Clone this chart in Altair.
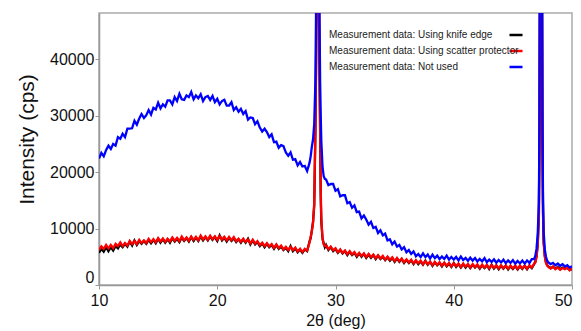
import altair as alt
import numpy as np
import pandas as pd

FONT = "Liberation Sans, Arial, sans-serif"

# ---- x sampling (deg) ----
x_a = list(np.round(np.arange(10.0, 27.81, 0.2), 1))            # 90 pts
x_p1 = [27.9, 28.0, 28.1, 28.2, 28.3, 28.35, 28.4, 28.45, 28.5, 28.55,
        28.6, 28.65, 28.7, 28.75, 28.8, 28.9, 29.0, 29.1]        # 18 pts
x_c = list(np.round(np.arange(29.2, 46.81, 0.2), 1))            # 89 pts
x_p2 = [46.9, 47.0, 47.1, 47.2, 47.25, 47.3, 47.35, 47.4, 47.45, 47.5,
        47.55, 47.6, 47.7, 47.8, 47.9]                            # 15 pts
x_e = list(np.round(np.arange(48.0, 50.01, 0.2), 1))            # 11 pts
x_all = [float(v) for v in x_a + x_p1 + x_c + x_p2 + x_e]

series_names = ["Measurement data: Using knife edge",
                "Measurement data: Using scatter protector",
                "Measurement data: Not used"]
series_keys = ["knife", "protector", "none"]
series_colors = ["#000000", "#ff0000", "#0000ff"]

# ---- Not used (blue) ----
blue_a = [22400, 23400, 22800, 23900, 24700, 24100, 25000, 24700, 26200, 25900,
          26800, 26200, 27700, 27700, 27800, 29100, 28400, 29500, 30300, 29600,
          30100, 31000, 30200, 31400, 31100, 32300, 31300, 32000, 31600, 32700,
          32700, 32000, 33300, 32600, 33900, 32900, 32800, 33600, 33300, 34200,
          32900, 33600, 33100, 33800, 32600, 33300, 33500, 32800, 33500, 32400,
          33000, 32000, 32600, 32800, 31800, 31800, 32400, 31000, 31500, 30700,
          31200, 30300, 30800, 29300, 29700, 29600, 28500, 29000, 27900, 27200,
          27700, 27100, 26200, 26700, 25300, 25400, 24300, 24800, 24600, 23500,
          22900, 23500, 22200, 22300, 21200, 21800, 21000, 21100, 20200, 21600]
blue_p1 = [22800, 24500, 25800, 28500, 36000, 47000, 66000, 110000, 180000, 110000,
           66000, 47000, 36000, 30000, 25500, 21000, 19300, 18800]
blue_c = [18700, 17700, 17900, 17900, 16700, 17000, 15700, 15900, 15900, 14500,
          14700, 13700, 14100, 12900, 13000, 11800, 12300, 11600, 10700, 11200,
          10100, 10300, 9200, 9700, 8800, 9100, 7900, 8100, 7200, 7700,
          6800, 7100, 6300, 6700, 5800, 6200, 5500, 5950, 5100, 5500,
          4950, 5600, 4950, 5400, 4700, 5380, 4750, 5220, 4580, 5050,
          4620, 5200, 4480, 4950, 4500, 4980, 4360, 5040, 4420, 4800,
          4270, 4840, 4310, 4780, 4150, 4620, 4190, 4760, 4030, 4500,
          4080, 4560, 3940, 4420, 4000, 4480, 3860, 4340, 3920, 4400,
          3780, 4260, 3840, 4320, 3800, 4350, 3900, 4600, 4600]
blue_p2 = [5200, 6400, 9000, 14500, 30000, 70000, 170000, 170000, 70000, 30000,
           15000, 9500, 6300, 5000, 4300]
blue_e = [4000, 3700, 3900, 3500, 3800, 3400, 3700, 3300, 3500, 3100, 3300]

# ---- Using scatter protector (red) ----
red_a = [6200, 6850, 6400, 7100, 6500, 7100, 6550, 7300, 6900, 7550,
         6900, 7450, 7000, 7800, 7250, 7800, 7250, 8000, 7450, 7900,
         7450, 8180, 7600, 8130, 7560, 8300, 7720, 8240, 7660, 8180,
         7700, 8420, 7840, 8360, 7780, 8600, 7920, 8440, 7860, 8580,
         8000, 8520, 7940, 8760, 8080, 8600, 8010, 8720, 8120, 8620,
         8000, 8680, 8060, 8540, 7920, 8500, 7950, 8500, 7750, 8200,
         7650, 8200, 7630, 8060, 7390, 8020, 7340, 7760, 7080, 7500,
         6900, 7420, 6840, 7260, 6580, 7200, 6540, 6980, 6320, 6760,
         6200, 6740, 6180, 6620, 5960, 6400, 5850, 6400, 6100, 7500]
red_p1 = [8500, 9500, 11000, 14500, 28000, 38000, 52000, 90000, 150000, 90000,
          52000, 38000, 28000, 17000, 12000, 8200, 7200, 6900]
red_c = [7000, 6350, 6800, 6150, 6500, 5800, 6300, 5700, 6120, 5450,
         5980, 5410, 5840, 5170, 5700, 5150, 5600, 4950, 5500, 4950,
         5390, 4730, 5270, 4710, 5150, 4490, 5030, 4470, 4910, 4250,
         4790, 4230, 4670, 4010, 4550, 4010, 4470, 3830, 4390, 3850,
         4310, 3670, 4230, 3690, 4150, 3520, 4090, 3560, 4030, 3400,
         3970, 3440, 3910, 3280, 3850, 3330, 3810, 3190, 3770, 3250,
         3730, 3110, 3690, 3170, 3650, 3030, 3610, 3090, 3570, 2950,
         3540, 3030, 3520, 2910, 3500, 2990, 3480, 2870, 3460, 2950,
         3450, 2850, 3450, 2950, 3450, 2880, 3520, 3100, 3800]
red_p2 = [4000, 5000, 7000, 12000, 26000, 62000, 160000, 160000, 62000, 26000,
          12500, 7500, 5000, 3900, 3500]
red_e = [3200, 2900, 3300, 2800, 3100, 2700, 3000, 2800, 3100, 2600, 2900]

# ---- Using knife edge (black) ----
black_a = [5700, 6400, 5900, 6700, 6000, 6700, 6100, 6900, 6500, 7200,
           6700, 7300, 6800, 7700, 7000, 7900, 7100, 7800, 7300, 7800,
           7300, 8000, 7400, 8000, 7400, 8200, 7500, 8100, 7500, 8100,
           7500, 8300, 7700, 8200, 7600, 8400, 7800, 8300, 7700, 8500,
           7800, 8400, 7800, 8600, 7900, 8500, 7900, 8600, 8000, 8500,
           7800, 8800, 7900, 8400, 7700, 8400, 7800, 8300, 7600, 8100,
           7500, 8100, 7500, 8200, 7200, 7900, 7200, 7600, 6900, 7400,
           6700, 7300, 6700, 7100, 6400, 7100, 6400, 6800, 6200, 6600,
           6000, 6900, 6000, 6500, 5800, 6300, 5700, 6300, 6000, 7700]
black_p1 = [8300, 9700, 11200, 14000, 27000, 37000, 50000, 90000, 150000, 90000,
            50000, 37000, 27000, 15500, 11200, 8300, 7400, 6700]
black_c = [7100, 6200, 6700, 6000, 6400, 5700, 6200, 5600, 6000, 5300,
           5900, 5300, 5700, 5000, 5600, 5000, 5500, 4800, 5400, 4800,
           5300, 4600, 5200, 4600, 5000, 4400, 4900, 4300, 4800, 4100,
           4700, 4100, 4600, 3900, 4400, 3900, 4400, 3700, 4300, 3700,
           4200, 3600, 4300, 3600, 4100, 3400, 4000, 3500, 3900, 3300,
           3900, 3300, 3800, 3200, 3900, 3200, 3700, 3100, 3700, 3100,
           3600, 3000, 3600, 3100, 3500, 2900, 3500, 3000, 3500, 2850,
           3600, 2900, 3400, 2800, 3400, 2900, 3400, 2750, 3300, 2850,
           3350, 2750, 3350, 2850, 3350, 2800, 3400, 3000, 3700]
black_p2 = [4100, 5100, 7200, 12500, 27000, 64000, 160000, 160000, 64000, 27000,
            13000, 7800, 5200, 4000, 3500]
black_e = [3300, 3000, 3200, 2900, 3200, 2800, 3100, 2900, 3000, 2700, 2800]

series_values = [
    black_a + black_p1 + black_c + black_p2 + black_e,
    red_a + red_p1 + red_c + red_p2 + red_e,
    blue_a + blue_p1 + blue_c + blue_p2 + blue_e,
]

x_ticks = [10, 20, 30, 40, 50]
y_ticks = [0, 10000, 20000, 30000, 40000]

frames = []
for name, key, vals in zip(series_names, series_keys, series_values):
    assert len(vals) == len(x_all), (name, len(vals), len(x_all))
    frames.append(pd.DataFrame({"x": x_all, "y": vals, "key": key, "label": name}))

color_scale = alt.Scale(domain=series_keys, range=series_colors)
dash_scale = alt.Scale(domain=series_names, range=[[1, 0], [1, 0], [1, 0]])

x_enc = alt.X("x:Q", title="2θ (deg)",
              scale=alt.Scale(domain=[10, 50], nice=False, zero=False),
              axis=alt.Axis(values=x_ticks, labelFlush=False, grid=False,
                            labelAlign=alt.ExprRef(expr="datum.value == 50 ? 'right' : 'center'"),
                            tickSize=4, labelPadding=3, titlePadding=4))
y_enc = alt.Y("y:Q", title="Intensity (cps)",
              scale=alt.Scale(domain=[0, 48200], nice=False),
              axis=alt.Axis(values=y_ticks, format="d", grid=False, labelFlush=True,
                            tickSize=4, labelPadding=1, titlePadding=12))

common_leg = dict(title=None, orient="none", legendY=14,
                  symbolType="stroke", symbolSize=170, symbolStrokeWidth=2.5,
                  labelFontSize=10, labelFont=FONT, labelColor="#222222",
                  labelLimit=0, rowPadding=3, padding=0)
# legend holding the line symbols (right side)
legend_symbols = alt.Legend(legendX=409, labelOpacity=0, **common_leg)
# legend holding the texts (left side)
legend_labels = alt.Legend(legendX=210, symbolOpacity=0, **common_leg)

layers = []
for i, df in enumerate(frames):
    if i == 0:
        color = alt.Color("key:N", scale=color_scale, sort=series_keys, legend=legend_symbols)
        dash = alt.StrokeDash("label:N", scale=dash_scale, sort=series_names, legend=legend_labels)
    else:
        color = alt.Color("key:N", scale=color_scale, sort=series_keys)
        dash = alt.StrokeDash("label:N", scale=dash_scale, sort=series_names)
    layers.append(alt.Chart(df).mark_line(strokeWidth=2.3, clip=True).encode(
        x=x_enc, y=y_enc, color=color, strokeDash=dash))

chart = alt.layer(*layers).properties(
    width=473, height=272,
    autosize=alt.AutoSizeParams(type="none"),
    padding={"left": 91, "top": 5, "right": 1, "bottom": 45},
).configure_view(
    stroke="#aaaaaa", strokeWidth=1.5
).configure_axis(
    domainColor="#999999", tickColor="#999999", domainWidth=1.5,
    labelFont=FONT, titleFont=FONT, labelColor="#111111", titleColor="#111111",
    titleFontWeight="normal", labelFontSize=16,
).configure_axisY(
    titleFontSize=21, titleY=126
).configure_axisX(
    titleFontSize=16
)

chart.save("out.html", embed_options={"renderer": "svg", "actions": False})
